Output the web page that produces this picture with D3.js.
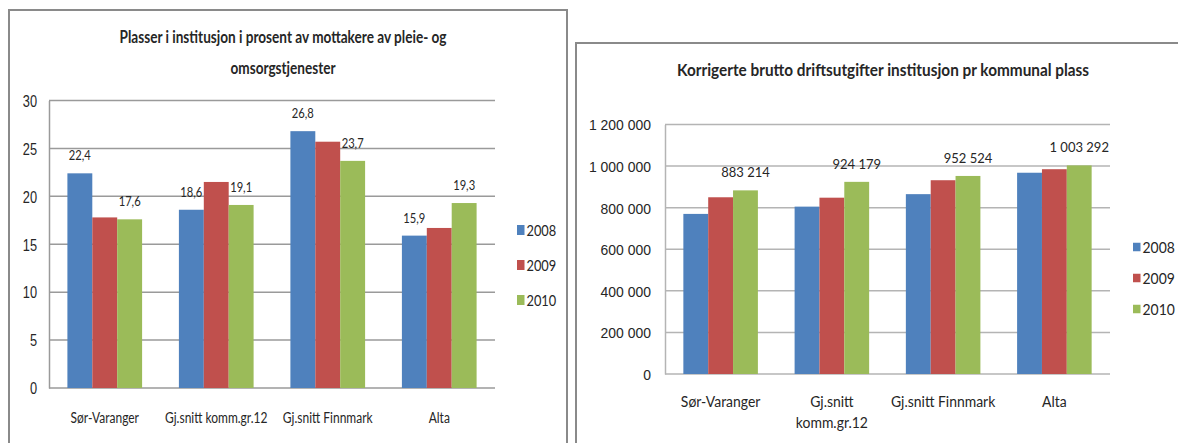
<!DOCTYPE html>
<html>
<head>
<meta charset="utf-8">
<script src="https://cdn.jsdelivr.net/npm/d3@7"></script>
<style>
  body { margin: 0; background: #fff; }
  svg { display: block; font-family: Lato, "Open Sans", sans-serif; }
</style>
</head>
<body>
<svg id="chart" width="1178" height="443"></svg>
<script>
// data
const categories = ["Sør-Varanger", "Gj.snitt komm.gr.12", "Gj.snitt Finnmark", "Alta"];
const years = ["2008", "2009", "2010"];

// plasser i institusjon (prosent)
const share2008 = [22.4, 18.6, 26.8, 15.9];
const share2009 = [17.8, 21.5, 25.7, 16.7];
const share2010 = [17.6, 19.1, 23.7, 19.3];
const shareTicks = [0, 5, 10, 15, 20, 25, 30];
const shareLabelled = ["2008", "2010"];

// korrigerte brutto driftsutgifter (kr)
const cost2008 = [770000, 805000, 865000, 968000];
const cost2009 = [850000, 848000, 932000, 985000];
const cost2010 = [883214, 924179, 952524, 1003292];
const costTicks = [0, 200000, 400000, 600000, 800000, 1000000, 1200000];
const costLabelled = ["2010"];

const colors = d3.scaleOrdinal().domain(years).range(["#4f81bd", "#c0504d", "#9bbb59"]);
const no = d3.formatLocale({ decimal: ",", thousands: "\u00a0", grouping: [3], currency: ["", " kr"] });

const svg = d3.select("#chart");

// text in the picture is squeezed sideways, so every text is scaled in x
function label(g, x, y, str, o) {
  return g.append("text")
    .attr("transform", `translate(${x},${y}) scale(${o.sx},1)`)
    .attr("text-anchor", o.anchor || "middle")
    .attr("font-size", o.size)
    .attr("font-weight", o.bold ? "bold" : null)
    .attr("fill", "#262626")
    .text(str);
}

function drawChart(cfg) {
  const g = svg.append("g");

  // frame
  g.append("rect")
    .attr("x", cfg.frame[0]).attr("y", cfg.frame[1])
    .attr("width", cfg.frame[2]).attr("height", cfg.frame[3])
    .attr("fill", "#fff").attr("stroke", "#8a8a8a").attr("stroke-width", 2);

  cfg.title.forEach((t, i) => label(g, cfg.titleX, cfg.titleY + i * cfg.titleGap, t, { sx: cfg.sx, size: cfg.titleSize, bold: true }));

  const x0 = d3.scaleBand().domain(categories).range([cfg.left, cfg.right]).paddingInner(0.33).paddingOuter(0.165);
  const x1 = d3.scaleBand().domain(years).range([0, x0.bandwidth()]);
  const y = d3.scaleLinear().domain(d3.extent(cfg.ticks)).range([cfg.bottom, cfg.top]);

  // gridlines
  g.append("g").selectAll("line").data(cfg.ticks).join("line")
    .attr("x1", cfg.left).attr("x2", cfg.right)
    .attr("y1", d => y(d)).attr("y2", d => y(d))
    .attr("stroke", cfg.grid).attr("stroke-width", 1.5);

  // y axis
  const yAxis = g.append("g")
    .attr("transform", `translate(${cfg.left},0)`)
    .call(d3.axisLeft(y).tickValues(cfg.ticks).tickSize(0).tickPadding(cfg.tickPad).tickFormat(cfg.fmt));
  yAxis.select(".domain").attr("stroke", cfg.grid).attr("stroke-width", 1.5);
  yAxis.selectAll("text")
    .attr("font-family", null).attr("font-size", cfg.tickSize).attr("fill", "#262626")
    .attr("dy", "0.36em")
    .attr("transform", function () { return `translate(${this.getAttribute("x")},0) scale(${cfg.sx},1)`; })
    .attr("x", 0);

  // bars
  const rows = categories.map((c, i) => years.map((yr, j) => ({ cat: c, year: yr, value: cfg.series[j][i] })));
  const groups = g.append("g").selectAll("g").data(rows).join("g")
    .attr("transform", (d, i) => `translate(${x0(categories[i])},0)`);
  groups.selectAll("rect").data(d => d).join("rect")
    .attr("x", d => x1(d.year)).attr("width", x1.bandwidth())
    .attr("y", d => y(d.value)).attr("height", d => cfg.bottom - y(d.value))
    .attr("fill", d => colors(d.year));

  // data labels
  rows.flat().filter(d => cfg.labelled.includes(d.year)).forEach(d => {
    label(g, x0(d.cat) + x1(d.year) + x1.bandwidth() / 2, y(d.value) - 13, cfg.fmt(d.value), { sx: cfg.sx, size: cfg.dataSize });
  });

  // category labels, wrapped when wider than the band
  categories.forEach(c => {
    const cx = x0(c) + x0.bandwidth() / 2;
    const t = label(g, cx, cfg.catY, c, { sx: cfg.sx, size: cfg.catSize });
    if (t.node().getComputedTextLength() * cfg.sx > x0.step() - 4) {
      const cut = c.lastIndexOf(" ");
      t.text(c.slice(0, cut));
      label(g, cx, cfg.catY + cfg.catGap, c.slice(cut + 1), { sx: cfg.sx, size: cfg.catSize });
    }
  });

  // legend
  years.forEach((yr, i) => {
    const ly = cfg.legY + i * cfg.legGap;
    g.append("rect").attr("x", cfg.legX).attr("y", ly - cfg.sq[1] / 2)
      .attr("width", cfg.sq[0]).attr("height", cfg.sq[1]).attr("fill", colors(yr));
    label(g, cfg.legX + cfg.sq[0] + 2, ly + 5.5, yr, { sx: cfg.sx, size: cfg.legSize, anchor: "start" });
  });
}

drawChart({
  frame: [9, 10, 558, 460],
  title: ["Plasser i institusjon i prosent av mottakere av pleie- og", "omsorgstjenester"],
  titleX: 283, titleY: 43, titleGap: 30.5, titleSize: 17,
  left: 49, right: 495, top: 100.5, bottom: 388,
  series: [share2008, share2009, share2010], ticks: shareTicks, labelled: shareLabelled,
  fmt: no.format(".1~f"), grid: "#9a9a9a", sx: 0.8,
  tickSize: 16, tickPad: 12, dataSize: 14, catSize: 15, catY: 423, catGap: 21,
  legX: 517, legY: 230, legGap: 35, legSize: 16, sq: [7.5, 10]
});

drawChart({
  frame: [576, 43, 640, 460],
  title: ["Korrigerte brutto driftsutgifter institusjon pr kommunal plass"],
  titleX: 883, titleY: 75.5, titleGap: 0, titleSize: 16.5,
  left: 665, right: 1110, top: 124.5, bottom: 374,
  series: [cost2008, cost2009, cost2010], ticks: costTicks, labelled: costLabelled,
  fmt: no.format(",d"), grid: "#b4b4b4", sx: 0.93,
  tickSize: 15, tickPad: 14, dataSize: 14, catSize: 15, catY: 406.5, catGap: 21.5,
  legX: 1133, legY: 247, legGap: 31, legSize: 15, sq: [7.5, 8.5]
});
</script>
</body>
</html>
